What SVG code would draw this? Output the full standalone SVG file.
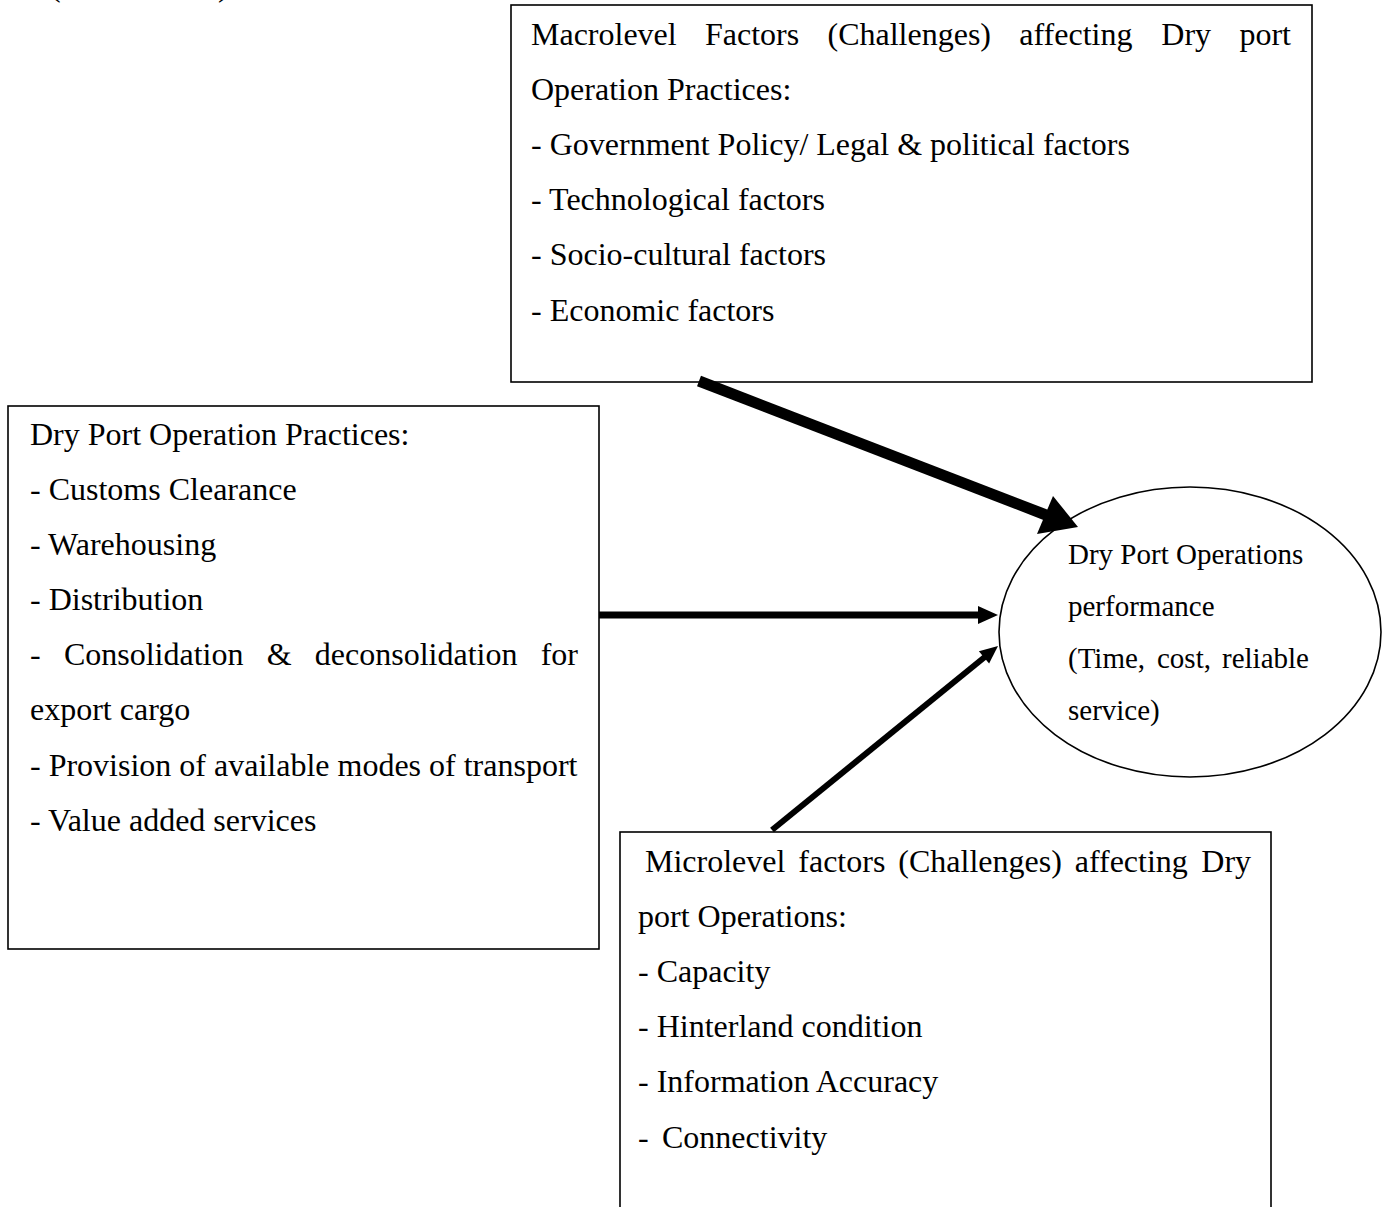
<svg xmlns="http://www.w3.org/2000/svg" width="1387" height="1207" viewBox="0 0 1387 1207">
<style>
  .box { fill: #ffffff; stroke: #000000; stroke-width: 1.6; }
  .t { font-family: "Liberation Serif", "Times New Roman", serif; font-size: 32px; fill: #000000; }
  .te { font-family: "Liberation Serif", "Times New Roman", serif; font-size: 29px; fill: #000000; }
  .ln { stroke: #000000; fill: none; stroke-linecap: butt; }
  .hd { fill: #000000; stroke: none; }
</style>
<rect x="0" y="0" width="1387" height="1207" fill="#ffffff"/>

<g id="caption-fragment">
  <text class="t" x="50" y="-4">(</text>
  <text class="t" x="218" y="-4">)</text>
</g>

<g id="node-macro">
  <rect class="box" x="511" y="5" width="801" height="377"/>
  <text class="t" y="45"><tspan x="531">Macrolevel</tspan><tspan x="705">Factors</tspan><tspan x="827.5">(Challenges)</tspan><tspan x="1019.3">affecting</tspan><tspan x="1161.3">Dry</tspan><tspan x="1239.4">port</tspan></text>
  <text class="t" x="531" y="100">Operation Practices:</text>
  <text class="t" x="531" y="155">- Government Policy/ Legal &amp; political factors</text>
  <text class="t" x="531" y="210">- Technological factors</text>
  <text class="t" x="531" y="265">- Socio-cultural factors</text>
  <text class="t" x="531" y="321">- Economic factors</text>
</g>

<g id="node-practices">
  <rect class="box" x="8" y="406" width="591" height="543"/>
  <text class="t" x="30" y="445">Dry Port Operation Practices:</text>
  <text class="t" x="30" y="500">- Customs Clearance</text>
  <text class="t" x="30" y="555">- Warehousing</text>
  <text class="t" x="30" y="610">- Distribution</text>
  <text class="t" y="665"><tspan x="30">-</tspan><tspan x="63.9">Consolidation</tspan><tspan x="266.7">&amp;</tspan><tspan x="314.8">deconsolidation</tspan><tspan x="540.7">for</tspan></text>
  <text class="t" x="30" y="720">export cargo</text>
  <text class="t" x="30" y="776">- Provision of available modes of transport</text>
  <text class="t" x="30" y="831">- Value added services</text>
</g>

<g id="node-micro">
  <rect class="box" x="620" y="832" width="651" height="400"/>
  <text class="t" y="872"><tspan x="645">Microlevel</tspan><tspan x="798.3">factors</tspan><tspan x="898.3">(Challenges)</tspan><tspan x="1074.7">affecting</tspan><tspan x="1201.3">Dry</tspan></text>
  <text class="t" x="638" y="927">port Operations:</text>
  <text class="t" x="638" y="982">- Capacity</text>
  <text class="t" x="638" y="1037">- Hinterland condition</text>
  <text class="t" x="638" y="1092">- Information Accuracy</text>
  <text class="t" y="1148"><tspan x="638">-</tspan><tspan x="662">Connectivity</tspan></text>
</g>

<g id="node-performance">
  <ellipse class="box" cx="1190" cy="632" rx="191" ry="145"/>
  <text class="te" x="1068" y="564">Dry Port Operations</text>
  <text class="te" x="1068" y="616">performance</text>
  <text class="te" y="668"><tspan x="1068">(Time,</tspan><tspan x="1157">cost,</tspan><tspan x="1222">reliable</tspan></text>
  <text class="te" x="1068" y="720">service)</text>
</g>

<g id="connectors">
  <line class="ln" x1="699" y1="381" x2="1046" y2="515" stroke-width="11"/>
  <polygon class="hd" points="1037,534 1053,496 1078,527"/>
  <line class="ln" x1="599" y1="615" x2="980" y2="615" stroke-width="7"/>
  <polygon class="hd" points="978,606 998,615 978,624"/>
  <line class="ln" x1="772" y1="830" x2="986" y2="656" stroke-width="6"/>
  <polygon class="hd" points="989.1,663.6 998,646 978.9,651.2"/>
</g>
</svg>
